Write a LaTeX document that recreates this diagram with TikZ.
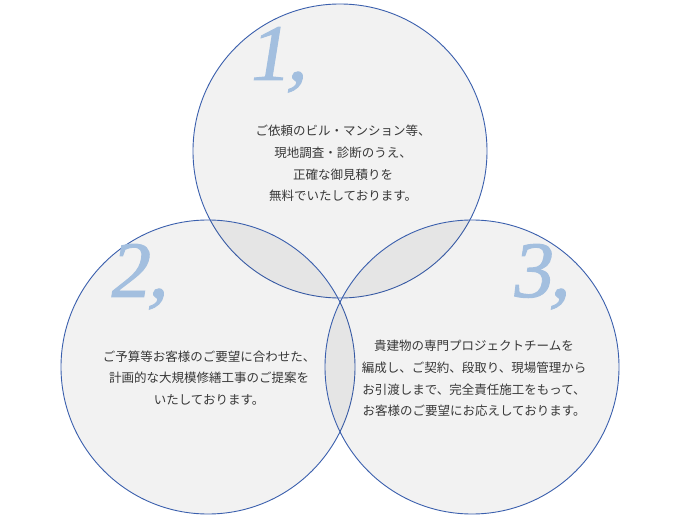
\documentclass[tikz,border=0pt]{standalone}
\usepackage{fontspec}
\newfontfamily\jpfont{Noto Sans CJK JP}
\newfontfamily\numfont[FakeSlant=0.16,FakeBold=1.2]{Liberation Serif}
\definecolor{ringblue}{HTML}{3A5FAD}
\definecolor{numblue}{HTML}{A3BFDF}
\definecolor{txtgray}{HTML}{383838}
\begin{document}
\begin{tikzpicture}[x=1pt,y=-1pt,
  ring/.style={circle,draw=ringblue,line width=0.9pt,fill=black,fill opacity=0.052,minimum size=294pt,inner sep=0pt},
  numlabel/.style={anchor=base west,inner sep=0pt,text=numblue,font=\numfont\fontsize{80}{80}\selectfont},
  body/.style={align=center,inner sep=0pt,text=txtgray,font=\jpfont\fontsize{12.5}{21.7}\selectfont}]
\useasboundingbox (0,0) rectangle (680,521);
\fill[white] (0,0) rectangle (680,521);
\node[ring] (c1) at (340,151) {};
\node[ring] (c2) at (208,367) {};
\node[ring] (c3) at (472,367) {};
\node[numlabel] (n1) at (247,80) {1,};
\node[numlabel] (n2) at (108,297) {2,};
\node[numlabel] (n3) at (510,297) {3,};
\node[body] (t1) at (343,163.5) {ご依頼のビル・マンション等、\\現地調査・診断のうえ、\\正確な御見積りを\\無料でいたしております。};
\node[body] (t2) at (209,378) {ご予算等お客様のご要望に合わせた、\\計画的な大規模修繕工事のご提案を\\いたしております。};
\node[body] (t3) at (474,378.5) {貴建物の専門プロジェクトチームを\\編成し、ご契約、段取り、現場管理から\\お引渡しまで、完全責任施工をもって、\\お客様のご要望にお応えしております。};
\end{tikzpicture}
\end{document}
